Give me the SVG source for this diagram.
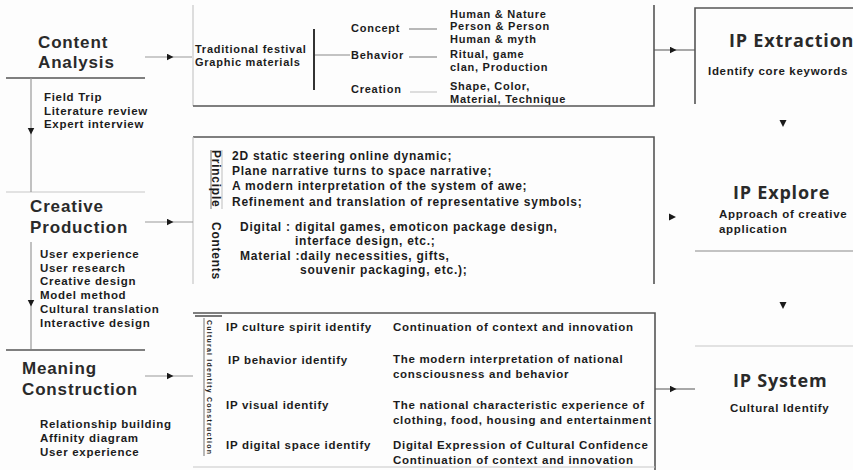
<svg xmlns="http://www.w3.org/2000/svg" width="853" height="470" viewBox="0 0 853 470">
<defs>
<style>
text{font-family:"Liberation Sans",Arial,sans-serif;fill:#1c1c1c;font-weight:700}
.h{font-size:17px;letter-spacing:0.85px;fill:#2a2a2a}
.ip{font-family:"Open Sans","Liberation Sans",sans-serif;font-size:18px;letter-spacing:0.8px;fill:#2a2a2a}
.b{font-size:11.5px;letter-spacing:0.7px}
.s{font-size:11px;letter-spacing:0.75px}
.m2{font-size:12px;letter-spacing:0.75px}
.m3{font-size:11.5px;letter-spacing:0.7px}
.dk{stroke:#555;stroke-width:1.6;fill:none}
.md{stroke:#8a8a8a;stroke-width:1.2;fill:none}
.lt{stroke:#c8c8c8;stroke-width:1.2;fill:none}
.conn{stroke:#999;stroke-width:1.2;fill:none;marker-mid:url(#arr)}
.tri{fill:#1a1a1a}
</style>
<marker id="arr" markerUnits="userSpaceOnUse" markerWidth="8" markerHeight="8" refX="3.5" refY="3.5" orient="auto">
<path d="M0,0 L7,3.5 L0,7 z" fill="#1a1a1a"/>
</marker>
</defs>
<rect width="853" height="470" fill="#fdfdfd"/>

<g id="content-analysis">
<text class="h"><tspan x="38" y="48">Content</tspan><tspan x="38" y="68">Analysis</tspan></text>
<line class="dk" x1="6" y1="78" x2="145" y2="78"/>
<text class="b"><tspan x="44" y="101">Field Trip</tspan><tspan x="44" y="114.5">Literature review</tspan><tspan x="44" y="128">Expert interview</tspan></text>
</g>

<g id="creative-production">
<line class="lt" x1="6" y1="192" x2="145" y2="192"/>
<text class="h"><tspan x="30" y="212">Creative</tspan><tspan x="30" y="233">Production</tspan></text>
<text class="b"><tspan x="40" y="258">User experience</tspan><tspan x="40" y="271.5">User research</tspan><tspan x="40" y="285">Creative design</tspan><tspan x="40" y="299">Model method</tspan><tspan x="40" y="313">Cultural translation</tspan><tspan x="40" y="327">Interactive design</tspan></text>
</g>

<g id="meaning-construction">
<line class="dk" x1="6" y1="350" x2="145" y2="350"/>
<text class="h"><tspan x="22" y="374">Meaning</tspan><tspan x="22" y="395">Construction</tspan></text>
<text class="b"><tspan x="40" y="428">Relationship building</tspan><tspan x="40" y="442">Affinity diagram</tspan><tspan x="40" y="456">User experience</tspan></text>
</g>

<g id="festival-box">
<polyline class="lt" points="193,5 193,106"/>
<polyline class="dk" points="193,106 654,106 654,5"/>
<text class="s"><tspan x="195" y="53">Traditional festival</tspan><tspan x="195" y="66">Graphic materials</tspan></text>
<line stroke="#333" stroke-width="2" x1="314" y1="29" x2="314" y2="90"/>
<line class="md" x1="315" y1="55" x2="350" y2="55"/>
<text class="s" x="351" y="32">Concept</text>
<text class="s" x="351" y="59">Behavior</text>
<text class="s" x="351" y="93">Creation</text>
<line class="md" x1="409" y1="29" x2="437" y2="29"/>
<line class="md" x1="409" y1="57" x2="437" y2="57"/>
<line class="lt" x1="410" y1="92" x2="437" y2="92"/>
<text class="s"><tspan x="450" y="17.5">Human &amp; Nature</tspan><tspan x="450" y="30">Person &amp; Person</tspan><tspan x="450" y="42.5">Human &amp; myth</tspan></text>
<text class="s"><tspan x="450" y="58">Ritual, game</tspan><tspan x="450" y="71">clan, Production</tspan></text>
<text class="s"><tspan x="450" y="90">Shape, Color,</tspan><tspan x="450" y="103">Material, Technique</tspan></text>
</g>

<g id="principle-box">
<polyline class="dk" points="193,137 654,137 654,284"/>
<line class="lt" x1="193" y1="137" x2="193" y2="284"/>
<line class="md" x1="211" y1="150" x2="211" y2="209"/>
<line class="lt" x1="222" y1="150" x2="222" y2="209"/>
<text class="m2" transform="translate(212,150) rotate(90)" x="0" y="0">Principle</text>
<text class="m2" transform="translate(212,222) rotate(90)" x="0" y="0">Contents</text>
<text class="m2"><tspan x="232" y="160">2D static steering online dynamic;</tspan><tspan x="232" y="175">Plane narrative turns to space narrative;</tspan><tspan x="232" y="190">A modern interpretation of the system of awe;</tspan><tspan x="232" y="206">Refinement and translation of representative symbols;</tspan></text>
<text class="m2" x="240" y="231">Digital  :</text>
<text class="m2"><tspan x="295" y="231">digital games, emoticon package design,</tspan><tspan x="295" y="245">interface design, etc.;</tspan></text>
<text class="m2"><tspan x="240" y="260">Material :daily necessities, gifts,</tspan><tspan x="300" y="274">souvenir packaging, etc.);</tspan></text>
</g>

<g id="identity-box">
<polyline class="dk" points="193,313 655,313 655,470"/>
<line class="dk" x1="195" y1="316" x2="222" y2="316"/>
<line class="lt" x1="193" y1="467" x2="655" y2="467"/>
<line class="md" x1="204" y1="318" x2="204" y2="456"/>
<text style="font-size:7px" transform="translate(207,320) rotate(90)" x="0" y="0" textLength="134" lengthAdjust="spacing">Cultural Identity Construction</text>
<text class="m3" x="226" y="331">IP culture spirit identify</text>
<text class="m3" x="228" y="364">IP behavior  identify</text>
<text class="m3" x="226" y="409">IP visual identify</text>
<text class="m3" x="226" y="449">IP digital space identify</text>
<text class="m3" x="393" y="331">Continuation of context and innovation</text>
<text class="m3"><tspan x="393" y="363">The modern interpretation of national</tspan><tspan x="393" y="378">consciousness and behavior</tspan></text>
<text class="m3"><tspan x="393" y="409">The national characteristic experience of</tspan><tspan x="393" y="424">clothing, food, housing and entertainment</tspan></text>
<text class="m3"><tspan x="393" y="449">Digital Expression of Cultural Confidence</tspan><tspan x="393" y="464">Continuation of context and innovation</tspan></text>
</g>

<g id="ip-extraction">
<polyline class="dk" points="695,104 695,8 853,8"/>
<text class="ip" x="729" y="47">IP Extraction</text>
<text class="b" x="708" y="75">Identify core keywords</text>
</g>

<g id="ip-explore">
<text class="ip" x="733" y="199">IP Explore</text>
<text class="b"><tspan x="719" y="218">Approach of creative</tspan><tspan x="719" y="233">application</tspan></text>
<line class="md" x1="695" y1="251" x2="853" y2="251"/>
</g>

<g id="ip-system">
<line class="lt" x1="695" y1="346" x2="853" y2="346"/>
<text class="ip" x="733" y="387">IP System</text>
<text class="b" x="730" y="412">Cultural Identify</text>
</g>

<g id="connectors">
<polyline class="conn" points="145,57 170,57 192,57"/>
<polyline class="conn" points="145,222 170,222 193,222"/>
<polyline class="conn" points="145,376 170,376 193,376"/>
<polyline class="conn" points="31,78 31,131 31,192"/>
<polyline class="conn" points="31,242 31,303 31,349"/>
<polyline class="conn" style="stroke:#555" points="654,50 673,50 695,50"/>
<polyline class="conn" style="stroke:#555" points="655,389 673,389 695,389"/>
<path class="tri" d="M669,213.5 L676,217 L669,220.5 z"/>
<path class="tri" d="M779.5,120 L786.5,120 L783,127 z"/>
<path class="tri" d="M779.5,302 L786.5,302 L783,309 z"/>
</g>
</svg>
